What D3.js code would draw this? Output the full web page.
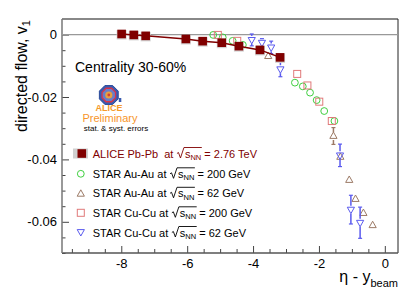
<!DOCTYPE html>
<html>
<head>
<meta charset="utf-8">
<script src="https://cdn.jsdelivr.net/npm/d3@7"></script>
<style>
  body { margin: 0; background: #fff; }
  text { font-family: "Liberation Sans", Arial, Helvetica, sans-serif; }
</style>
</head>
<body>
<div id="chart"></div>
<script>
// ALICE Pb-Pb 2.76 TeV (filled squares, connected)
const aliceX = [-7.99, -7.62, -7.26, -6.04, -5.53, -4.95, -4.43, -3.79, -3.18];
const aliceY = [0.0002, -0.0001, -0.0004, -0.0014, -0.0021, -0.0026, -0.0037, -0.0049, -0.0073];

// STAR Au-Au 200 GeV (open circles)
const auau200X = [-5.21, -4.92, -4.62, -4.31, -2.73, -2.49, -2.27, -2.07, -1.84, -1.53];
const auau200Y = [-0.0001, -0.0009, -0.0020, -0.0033, -0.0154, -0.0166, -0.0186, -0.0210, -0.0245, -0.0277];

// STAR Au-Au 62 GeV (open triangles)
const auau62X = [-3.54, -1.56, -1.35, -1.08, -0.89, -0.65, -0.37];
const auau62Y = [-0.0069, -0.0325, -0.0392, -0.0466, -0.0527, -0.0572, -0.0611];
const auau62E = [0.0010, 0.0027, 0.0012, 0.0008, 0.0012, 0.0012, 0.0012];

// STAR Cu-Cu 200 GeV (open squares)
const cucu200X = [-5.07, -4.48, -2.66, -2.35, -1.99, -1.61];
const cucu200Y = [-0.0001, -0.0020, -0.0126, -0.0163, -0.0215, -0.0277];

// STAR Cu-Cu 62 GeV (open down triangles)
const cucu62X = [-4.04, -3.73, -3.45, -3.17, -1.36, -1.03, -0.75];
const cucu62Y = [-0.0017, -0.0026, -0.0041, -0.0111, -0.0387, -0.0561, -0.0603];
const cucu62E = [0.0019, 0.0013, 0.0020, 0.0024, 0.0036, 0.0046, 0.0050];

const xMajor = [-8, -6, -4, -2, 0];
const yMajor = [0, -0.02, -0.04, -0.06];

const legendLabels = [
  {pre: "ALICE Pb-Pb  at ", post: " = 2.76 TeV"},
  {pre: "STAR Au-Au at ", post: " = 200 GeV"},
  {pre: "STAR Au-Au at ", post: " = 62 GeV"},
  {pre: "STAR Cu-Cu at ", post: " = 200 GeV"},
  {pre: "STAR Cu-Cu at ", post: " = 62 GeV"}
];

const W = 415, H = 298;
const frame = {l: 62, r: 398, t: 19, b: 253};

const colAlice = "#800000", colGreen = "#3fcf3f", colBrown = "#9c7a66",
      colPink = "#e07a7a", colBlue = "#5a5aee";

const svg = d3.select("#chart").append("svg")
  .attr("width", W).attr("height", H)
  .style("background", "#fff");

const x = d3.scaleLinear().domain([-9.8, 0.4]).range([frame.l, frame.r]);
const y = d3.scaleLinear().domain([0.005, -0.07]).range([frame.t, frame.b]);

// minor ticks
const xMinor = d3.range(-9.5, 0.41, 0.5).filter(v => !xMajor.includes(v));
const yMinor = d3.range(0.005, -0.0701, -0.005).map(v => +v.toFixed(3)).filter(v => !yMajor.includes(v));

// x axis
svg.append("g").attr("transform", `translate(0,${frame.b})`)
  .call(d3.axisBottom(x).tickValues(xMinor).tickSize(-4).tickFormat(""))
  .call(g => g.select(".domain").remove())
  .call(g => g.selectAll("line").attr("stroke", "#444"));
svg.append("g").attr("transform", `translate(0,${frame.b})`)
  .call(d3.axisBottom(x).tickValues(xMajor).tickSize(-7).tickPadding(6)
    .tickFormat(d => d === 0 ? "0" : String(d)))
  .call(g => g.select(".domain").remove())
  .call(g => g.selectAll("line").attr("stroke", "#444"))
  .call(g => g.selectAll("text").attr("font-size", 13).attr("fill", "#000")
    .attr("font-family", "Liberation Sans, Arial, sans-serif"));

// y axis
svg.append("g").attr("transform", `translate(${frame.l},0)`)
  .call(d3.axisLeft(y).tickValues(yMinor).tickSize(-3.5).tickFormat(""))
  .call(g => g.select(".domain").remove())
  .call(g => g.selectAll("line").attr("stroke", "#444"));
svg.append("g").attr("transform", `translate(${frame.l},0)`)
  .call(d3.axisLeft(y).tickValues(yMajor).tickSize(-7).tickPadding(5)
    .tickFormat(d => d === 0 ? "0" : d.toFixed(2)))
  .call(g => g.select(".domain").remove())
  .call(g => g.selectAll("line").attr("stroke", "#444"))
  .call(g => g.selectAll("text").attr("font-size", 13).attr("fill", "#000")
    .attr("font-family", "Liberation Sans, Arial, sans-serif"));

// frame
svg.append("line").attr("x1", frame.l).attr("x2", frame.r).attr("y1", frame.t).attr("y2", frame.t)
  .attr("stroke", "#888").attr("stroke-width", 2);
svg.append("line").attr("x1", frame.r).attr("x2", frame.r).attr("y1", frame.t).attr("y2", frame.b)
  .attr("stroke", "#222").attr("stroke-width", 1);
svg.append("line").attr("x1", frame.l).attr("x2", frame.r).attr("y1", frame.b).attr("y2", frame.b)
  .attr("stroke", "#555").attr("stroke-width", 1.5);
svg.append("line").attr("x1", frame.l).attr("x2", frame.l).attr("y1", frame.t).attr("y2", frame.b)
  .attr("stroke", "#777").attr("stroke-width", 1.5);

// zero line
svg.append("line").attr("x1", frame.l).attr("x2", frame.r).attr("y1", y(0)).attr("y2", y(0))
  .attr("stroke", "#999").attr("stroke-width", 1.3);

// marker helpers
function upTri(cx, cy, s) {
  return `M${cx},${cy - s}L${cx + s * 0.9},${cy + s * 0.6}L${cx - s * 0.9},${cy + s * 0.6}Z`;
}
function downTri(cx, cy, s) {
  return `M${cx},${cy + s}L${cx + s * 0.9},${cy - s * 0.6}L${cx - s * 0.9},${cy - s * 0.6}Z`;
}
function errBar(g, px, py, top, bot, gap, col) {
  if (top < py - gap) {
    g.append("line").attr("x1", px).attr("x2", px).attr("y1", top).attr("y2", py - gap).attr("stroke", col).attr("stroke-width", 1.5);
    g.append("line").attr("x1", px - 2).attr("x2", px + 2).attr("y1", top).attr("y2", top).attr("stroke", col).attr("stroke-width", 1.2);
  }
  if (bot > py + gap) {
    g.append("line").attr("x1", px).attr("x2", px).attr("y1", py + gap).attr("y2", bot).attr("stroke", col).attr("stroke-width", 1.5);
    g.append("line").attr("x1", px - 2).attr("x2", px + 2).attr("y1", bot).attr("y2", bot).attr("stroke", col).attr("stroke-width", 1.2);
  }
}

const plot = svg.append("g");

// STAR Au-Au 200 circles
auau200X.forEach((v, i) => {
  plot.append("circle").attr("cx", x(v)).attr("cy", y(auau200Y[i])).attr("r", 3.4)
    .attr("fill", "none").attr("stroke", colGreen).attr("stroke-width", 1);
});
// STAR Cu-Cu 200 squares
cucu200X.forEach((v, i) => {
  plot.append("rect").attr("x", x(v) - 3.5).attr("y", y(cucu200Y[i]) - 3.5)
    .attr("width", 7).attr("height", 7)
    .attr("fill", "none").attr("stroke", colPink).attr("stroke-width", 1);
});
// STAR Au-Au 62 triangles
auau62X.forEach((v, i) => {
  const px = x(v), py = y(auau62Y[i]);
  errBar(plot, px, py, y(auau62Y[i] + auau62E[i]), y(auau62Y[i] - auau62E[i]), 4, colBrown);
  plot.append("path").attr("d", upTri(px, py, 4))
    .attr("fill", "none").attr("stroke", colBrown).attr("stroke-width", 1);
});
// STAR Cu-Cu 62 down triangles
cucu62X.forEach((v, i) => {
  const px = x(v), py = y(cucu62Y[i]);
  errBar(plot, px, py, y(cucu62Y[i] + cucu62E[i]), y(cucu62Y[i] - cucu62E[i]), 4, colBlue);
  plot.append("path").attr("d", downTri(px, py, 4))
    .attr("fill", "none").attr("stroke", colBlue).attr("stroke-width", 1);
});

// ALICE: syst boxes, line, squares
aliceX.forEach((v, i) => {
  plot.append("rect").attr("x", x(v) - 5).attr("y", y(aliceY[i]) - 4)
    .attr("width", 10).attr("height", 9.5).attr("fill", "#d4d4d4");
});
plot.append("path")
  .datum(aliceX.map((v, i) => [v, aliceY[i]]))
  .attr("d", d3.line().x(d => x(d[0])).y(d => y(d[1])))
  .attr("fill", "none").attr("stroke", colAlice).attr("stroke-width", 1.5);
aliceX.forEach((v, i) => {
  plot.append("rect").attr("x", x(v) - 4.3).attr("y", y(aliceY[i]) - 4.3)
    .attr("width", 8.6).attr("height", 8.6).attr("fill", colAlice);
});

// Centrality text
svg.append("text").attr("x", 75).attr("y", 72).attr("font-size", 14).text("Centrality 30-60%");

// ALICE logo
const logo = svg.append("g").attr("transform", "translate(108.8,95)");
const oct = r => d3.range(8).map(k => {
  const a = Math.PI / 8 + k * Math.PI / 4;
  return [r * Math.cos(a), r * Math.sin(a)];
});
logo.append("path").attr("d", d3.line()(oct(10.2)) + "Z").attr("fill", "#3a5cb0").attr("stroke", "#2a4a9a");
logo.append("path").attr("d", d3.line()(oct(7.3)) + "Z").attr("fill", "#6a7ec8").attr("stroke", "#d8344a").attr("stroke-width", 1.3);
logo.append("circle").attr("r", 3.6).attr("fill", "#e8a040");
logo.append("circle").attr("r", 1.4).attr("fill", "#d84030");
logo.append("rect").attr("x", 10).attr("y", 3).attr("width", 2.5).attr("height", 4).attr("fill", "#3a5cb0");
svg.append("text").attr("x", 109).attr("y", 110.5).attr("font-size", 9).attr("font-weight", "bold")
  .attr("text-anchor", "middle").attr("fill", "#f59a2a").text("ALICE");
svg.append("text").attr("x", 110).attr("y", 122).attr("font-size", 11)
  .attr("text-anchor", "middle").attr("fill", "#f7952a").text("Preliminary");
svg.append("text").attr("x", 116).attr("y", 131).attr("font-size", 8)
  .attr("text-anchor", "middle").attr("fill", "#000").text("stat. & syst. errors");

// legend
const legRows = [153.5, 173.8, 193.3, 212.8, 232.5];
const legMarkX = 80.8, legTextX = 92.7;
const leg = svg.append("g");

leg.append("rect").attr("x", 73).attr("y", legRows[0] - 5).attr("width", 15).attr("height", 10).attr("fill", "#d0d0d0");
leg.append("rect").attr("x", legMarkX - 4.3 + 1).attr("y", legRows[0] - 4.3).attr("width", 8.6).attr("height", 8.6).attr("fill", colAlice);
leg.append("circle").attr("cx", legMarkX).attr("cy", legRows[1]).attr("r", 3.4)
  .attr("fill", "none").attr("stroke", colGreen);
leg.append("path").attr("d", upTri(legMarkX, legRows[2] + 0.5, 4))
  .attr("fill", "none").attr("stroke", colBrown);
leg.append("rect").attr("x", legMarkX - 3.5).attr("y", legRows[3] - 3.5).attr("width", 7).attr("height", 7)
  .attr("fill", "none").attr("stroke", colPink);
leg.append("path").attr("d", downTri(legMarkX, legRows[4] - 0.5, 4))
  .attr("fill", "none").attr("stroke", colBlue);

legendLabels.forEach((lab, i) => {
  const by = legRows[i] + 4;
  const col = i === 0 ? colAlice : "#000";
  const t = leg.append("text").attr("x", legTextX).attr("y", by).attr("font-size", 11).attr("fill", col)
    .style("white-space", "pre");
  t.append("tspan").text(lab.pre);
  t.append("tspan").attr("dx", 8.5).text("s");
  t.append("tspan").attr("font-size", 7.5).attr("dy", 2.5).text("NN");
  t.append("tspan").attr("dy", -2.5).text(lab.post);
  const node = t.node();
  const n = lab.pre.length;
  const x0 = node.getEndPositionOfChar(n - 1).x;
  const xEnd = node.getEndPositionOfChar(n + 2).x + 0.5;
  leg.append("path")
    .attr("d", `M${x0 + 0.5},${by - 4}L${x0 + 2},${by - 5}L${x0 + 4},${by + 0.5}L${x0 + 7.5},${by - 10}L${xEnd},${by - 10}`)
    .attr("fill", "none").attr("stroke", col).attr("stroke-width", 0.9);
});

// axis titles
const yt = svg.append("text").attr("transform", "translate(27,20) rotate(-90)")
  .attr("text-anchor", "end").attr("font-size", 16);
yt.append("tspan").text("directed flow, v");
yt.append("tspan").attr("font-size", 11).attr("dy", 3).text("1");

const xt = svg.append("text").attr("x", 398).attr("y", 282).attr("text-anchor", "end").attr("font-size", 16);
xt.append("tspan").text("η - y");
xt.append("tspan").attr("font-size", 11).attr("dy", 5).text("beam");
</script>
</body>
</html>
